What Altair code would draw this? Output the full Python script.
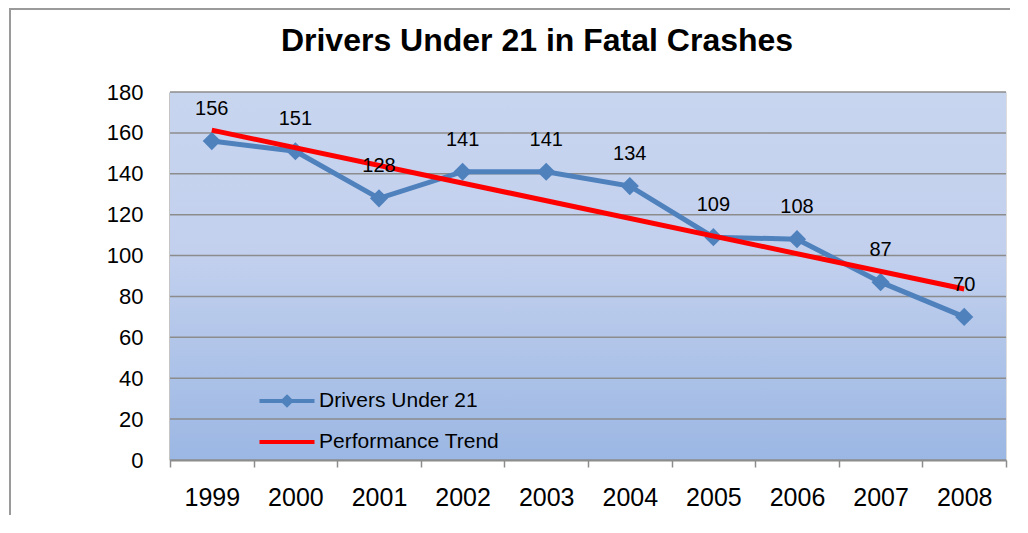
import altair as alt
import pandas as pd

years = [1999, 2000, 2001, 2002, 2003, 2004, 2005, 2006, 2007, 2008]
drivers = [156, 151, 128, 141, 141, 134, 109, 108, 87, 70]
series_main = "Drivers Under 21"
series_trend = "Performance Trend"
y_ticks = [0, 20, 40, 60, 80, 100, 120, 140, 160, 180]

df = pd.DataFrame({
    "i": list(range(len(years))),
    "year": years,
    "value": drivers,
    "series": series_main,
})
ticks_df = pd.DataFrame({"value": y_ticks})

FONT = "Liberation Sans"
BLUE = "#4f81bd"
RED = "#ff0000"
GRID = "#8c8c8c"

W, H = 836, 368

x_enc = alt.X(
    "year:O",
    scale=alt.Scale(type="band", paddingInner=0, paddingOuter=0),
    axis=alt.Axis(
        orient="bottom",
        tickBand="extent",
        labelAngle=0,
        labelFontSize=25,
        labelFont=FONT,
        labelColor="black",
        labelPadding=18,
        tickSize=7,
        tickColor=GRID,
        tickWidth=1.5,
        domainColor=GRID,
        domainWidth=2,
        grid=False,
        title=None,
    ),
)
x_idx = alt.X(
    "i:Q",
    scale=alt.Scale(domain=[-0.5, len(years) - 0.5], nice=False, zero=False),
    axis=None,
)
y_enc = alt.Y(
    "value:Q",
    scale=alt.Scale(domain=[0, 180], nice=False),
    axis=alt.Axis(
        values=y_ticks,
        grid=False,
        ticks=False,
        domainColor=GRID,
        domainWidth=2,
        labelFontSize=22,
        labelFont=FONT,
        labelColor="black",
        labelPadding=27,
        title=None,
    ),
)

series_domain = [series_main, series_trend]
color_scale = alt.Scale(domain=series_domain, range=[BLUE, RED])
drivers_sym = "M-2.75,0L2.75,0M0,-0.4L0.4,0L0,0.4L-0.4,0Z"
trend_sym = "M-2.75,0L2.75,0"

legend_props = dict(
    orient="none",
    legendX=105,
    legendY=297,
    title=None,
    padding=0,
    labelFont=FONT,
    labelFontSize=21,
    labelColor="black",
    labelOffset=20,
    labelLimit=400,
    symbolSize=400,
    symbolStrokeWidth=4,
    rowPadding=17,
)

color_nolegend = alt.Color("series:N", scale=color_scale, legend=None)

one = pd.DataFrame({"a": [0]})
frame_v = alt.Chart(one).mark_rule(color="#9a9a9a", strokeWidth=2, clip=False).encode(
    x=alt.value(-160), y=alt.value(-84), y2=alt.value(700)
)
frame_h = alt.Chart(one).mark_rule(color="#9a9a9a", strokeWidth=2, clip=False).encode(
    x=alt.value(-161), x2=alt.value(1200), y=alt.value(-83)
)

bg = alt.Chart(one).mark_rect(
    fill=alt.Gradient(
        gradient="linear", x1=0, y1=0, x2=0, y2=1,
        stops=[
            alt.GradientStop(offset=0, color="#c8d5ef"),
            alt.GradientStop(offset=0.45, color="#c2d0ee"),
            alt.GradientStop(offset=1, color="#9bb7e3"),
        ],
    )
).encode(x=alt.value(0), x2=alt.value(W), y=alt.value(0), y2=alt.value(H))

grid = alt.Chart(ticks_df).mark_rule(color=GRID, strokeWidth=1.5).encode(y=y_enc)

base = alt.Chart(df)

legend_layer = base.mark_point(filled=False, opacity=0, strokeWidth=4).encode(
    x=x_enc,
    y=y_enc,
    color=alt.Color("series:N", scale=color_scale, legend=alt.Legend(**legend_props)),
    shape=alt.Shape(
        "series:N",
        scale=alt.Scale(domain=series_domain, range=[drivers_sym, trend_sym]),
        legend=alt.Legend(**legend_props),
    ),
)

line = base.mark_line(strokeWidth=5).encode(x=x_enc, y=y_enc, color=color_nolegend)
points = base.mark_point(shape="diamond", filled=True, size=330, color=BLUE, opacity=1).encode(
    x=x_enc, y=y_enc
)
group_a = alt.layer(bg, grid, legend_layer, line, points)

trend = base.transform_regression("i", "value").transform_calculate(
    series=f"'{series_trend}'"
).mark_line(strokeWidth=5).encode(x=x_idx, y=y_enc, color=color_nolegend)
labels = base.mark_text(dy=-32, fontSize=20, font=FONT, color="black").encode(
    x=x_idx, y=y_enc, text="value:Q"
)
group_b = alt.layer(trend, labels)

chart = alt.layer(frame_v, frame_h, group_a, group_b).resolve_scale(
    x="independent"
).properties(
    width=W,
    height=H,
    title=alt.Title(
        "Drivers Under 21 in Fatal Crashes",
        font=FONT,
        fontSize=32,
        fontWeight="bold",
        color="black",
        anchor="middle",
        dx=-51,
        offset=-76,
        baseline="alphabetic",
    ),
    autosize=alt.AutoSizeParams(type="none"),
    padding={"left": 162, "top": 84, "right": 4, "bottom": 55},
).configure_view(stroke=None).configure(background="white")

chart.save("out.html", embed_options={"renderer": "svg", "actions": False})
